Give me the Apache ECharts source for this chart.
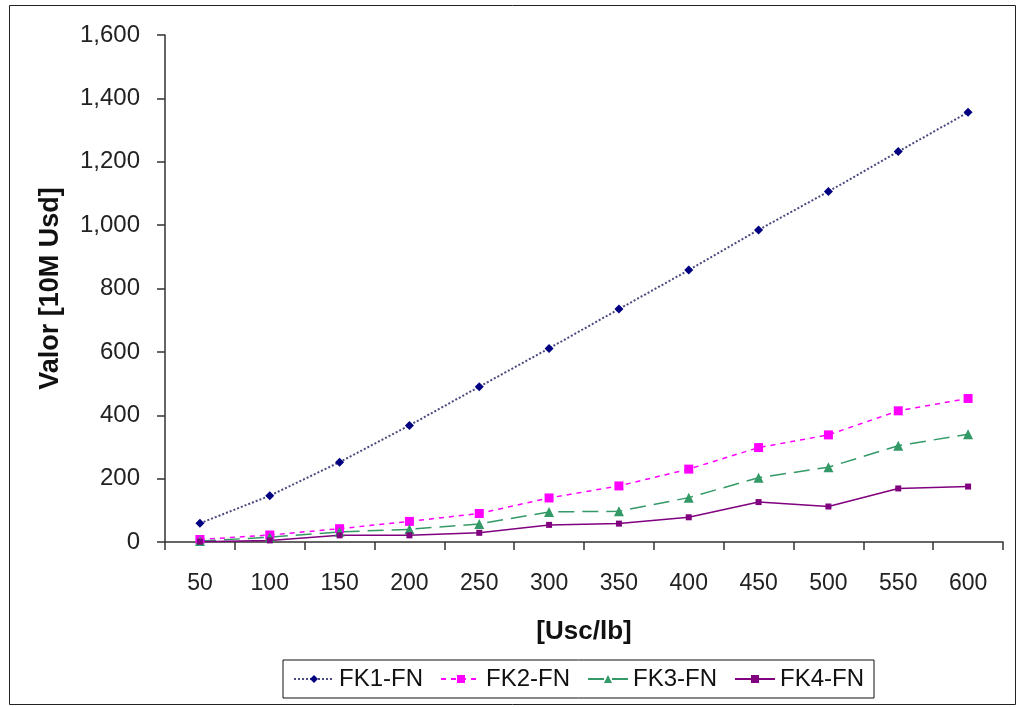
<!DOCTYPE html>
<html>
<head>
<meta charset="utf-8">
<script src="https://cdn.jsdelivr.net/npm/echarts@6/dist/echarts.min.js"></script>
<style>
  html, body { margin: 0; padding: 0; background: #fff; }
  #chart { width: 1022px; height: 707px; }
</style>
</head>
<body>
<div id="chart"></div>
<script>
// Price levels on the x axis
const categories = ['50', '100', '150', '200', '250', '300', '350', '400', '450', '500', '550', '600'];

// Value of each scenario, in units of 10M USD
const fk1 = [59, 146, 252, 368, 490, 611, 735, 858, 985, 1106, 1232, 1356];
const fk2 = [8, 22, 42, 65, 90, 139, 177, 230, 298, 338, 414, 453];
const fk3 = [3, 15, 32, 40, 57, 95, 97, 140, 203, 236, 304, 340];
const fk4 = [1, 5, 21, 21, 29, 54, 58, 78, 126, 112, 169, 175];

const seriesNames = ['FK1-FN', 'FK2-FN', 'FK3-FN', 'FK4-FN'];

// Value axis range
const yMin = 0;
const yMax = 1600;
const yStep = 200;

const FONT = '"Liberation Sans", Arial, sans-serif';

const chart = echarts.init(document.getElementById('chart'), null, { renderer: 'canvas' });

function lineSeries(name, data, color, lineType, symbol, symbolSize, lineColor, width) {
  return {
    name: name,
    type: 'line',
    data: data,
    symbol: symbol,
    symbolSize: symbolSize,
    showSymbol: true,
    animation: false,
    itemStyle: { color: color, borderWidth: 0 },
    lineStyle: { color: lineColor || color, type: lineType, width: width || 1.5 }
  };
}

chart.setOption({
  backgroundColor: '#ffffff',
  animation: false,
  graphic: [{
    type: 'rect',
    shape: { x: 9.5, y: 5.5, width: 1006, height: 699 },
    style: { fill: 'none', stroke: '#222', lineWidth: 1 },
    silent: true,
    z: -1
  }],
  grid: { left: 165, right: 19, top: 35, bottom: 165, containLabel: false },
  legend: {
    data: seriesNames,
    top: 660,
    left: 283,
    orient: 'horizontal',
    itemWidth: 40,
    itemHeight: 10,
    itemGap: 17,
    padding: [7, 10],
    borderColor: '#111',
    borderWidth: 1,
    borderRadius: 0,
    textStyle: { fontFamily: FONT, fontSize: 24, color: '#111' }
  },
  xAxis: {
    type: 'category',
    data: categories,
    boundaryGap: true,
    name: '[Usc/lb]',
    nameLocation: 'middle',
    nameGap: 77,
    nameTextStyle: { fontFamily: FONT, fontSize: 26, fontWeight: 'bold', color: '#111' },
    axisLine: { lineStyle: { color: '#333', width: 1.5 } },
    axisTick: { show: true, length: 8, inside: false, alignWithLabel: false, lineStyle: { color: '#333', width: 1.5 } },
    axisLabel: { fontFamily: FONT, fontSize: 23, color: '#222', margin: 30 },
    splitLine: { show: false }
  },
  yAxis: {
    type: 'value',
    min: yMin,
    max: yMax,
    interval: yStep,
    name: 'Valor [10M Usd]',
    nameLocation: 'middle',
    nameRotate: 90,
    nameGap: 101,
    nameTextStyle: { fontFamily: FONT, fontSize: 27, fontWeight: 'bold', color: '#111' },
    axisLine: { show: true, lineStyle: { color: '#333', width: 1.5 } },
    axisTick: { show: true, length: 8, inside: false, lineStyle: { color: '#333', width: 1.5 } },
    axisLabel: {
      fontFamily: FONT, fontSize: 24, color: '#222', margin: 25,
      formatter: v => v.toLocaleString('en-US')
    },
    splitLine: { show: false }
  },
  series: [
    lineSeries(seriesNames[0], fk1, '#000080', 'dotted', 'diamond', 9, '#4a4a80', 2),
    lineSeries(seriesNames[1], fk2, '#ff00ff', [5, 5], 'rect', 9, '#ff00ff', 1.5),
    lineSeries(seriesNames[2], fk3, '#339966', [16, 8], 'triangle', 10, '#339966', 1.5),
    lineSeries(seriesNames[3], fk4, '#800080', 'solid', 'rect', 6, '#800080', 1.5)
  ]
});
</script>
</body>
</html>
